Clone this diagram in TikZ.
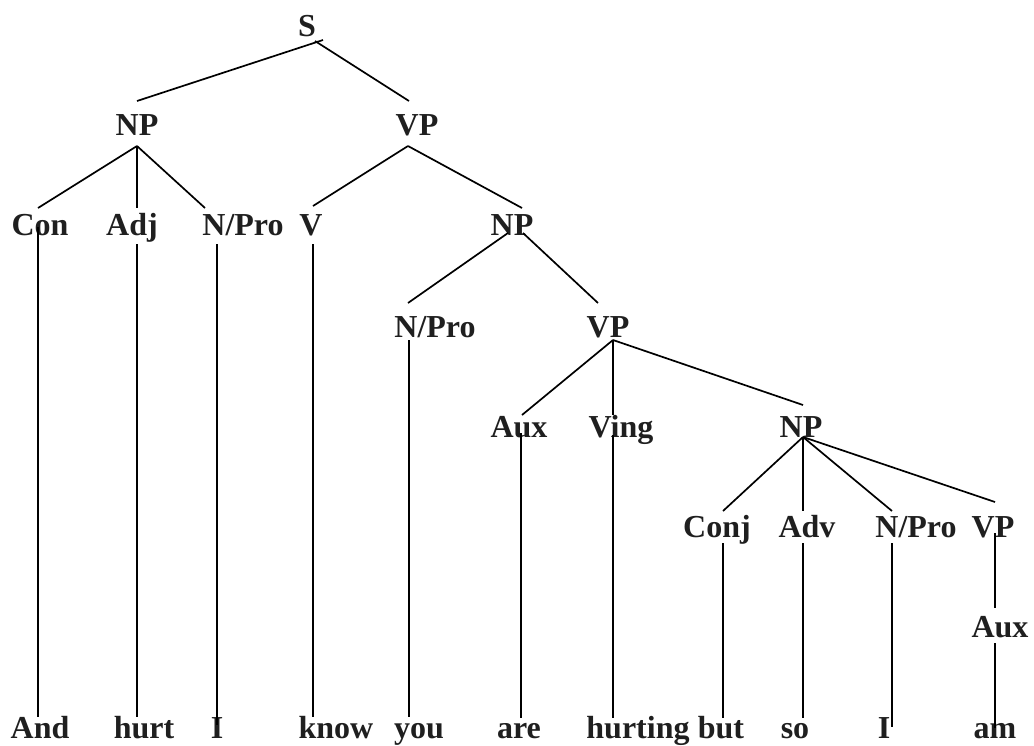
\documentclass[tikz,border=0pt]{standalone}
\usepackage{fontspec}
\setmainfont{Liberation Serif}
\begin{document}
\begin{tikzpicture}[x=1pt,y=-1pt,
  lab/.style={anchor=base, inner sep=0pt, font=\fontsize{32}{38}\selectfont\bfseries, text=black!88},
  edge/.style={line width=1.7pt, black}]
\useasboundingbox (0,0) rectangle (1034,745);
% labels
\node[lab] (s) at (307,36) {S};
\node[lab] (np1) at (137,135) {NP};
\node[lab] (vp1) at (417,135) {VP};
\node[lab] (con) at (40,235) {Con};
\node[lab] (adj) at (132,235) {Adj};
\node[lab] (npro1) at (243,235) {N/Pro};
\node[lab] (v) at (311,235) {V};
\node[lab] (np2) at (512,235) {NP};
\node[lab] (npro2) at (435,337) {N/Pro};
\node[lab] (vp2) at (608,337) {VP};
\node[lab] (aux1) at (519,437) {Aux};
\node[lab] (ving) at (621,437) {Ving};
\node[lab] (np3) at (801,437) {NP};
\node[lab] (conj) at (717,537) {Conj};
\node[lab] (adv) at (807,537) {Adv};
\node[lab] (npro3) at (916,537) {N/Pro};
\node[lab] (vp3) at (993,537) {VP};
\node[lab] (aux2) at (1000,637) {Aux};
% words
\node[lab] (wAnd) at (40,738) {And};
\node[lab] (wHurt) at (144,738) {hurt};
\node[lab] (wI) at (217,738) {I};
\node[lab] (wKnow) at (336,738) {know};
\node[lab] (wYou) at (419,738) {you};
\node[lab] (wAre) at (519,738) {are};
\node[lab] (wHurting) at (638,738) {hurting};
\node[lab] (wBut) at (721,738) {but};
\node[lab] (wSo) at (795,738) {so};
\node[lab] (wIb) at (884,738) {I};
\node[lab] (wAm) at (995,738) {am};
% connector end points
\coordinate (sL) at (323,40);
\coordinate (sR) at (315,41);
\coordinate (np1t) at (137,101);
\coordinate (vp1t) at (409,101);
\coordinate (np1b) at (137,146);
\coordinate (cont) at (38,208);
\coordinate (adjt) at (137,208);
\coordinate (npro1t) at (205,208);
\coordinate (vp1b) at (408,146);
\coordinate (vt) at (313,206);
\coordinate (np2t) at (522,208);
\coordinate (np2bl) at (508,233);
\coordinate (np2br) at (523,233);
\coordinate (npro2t) at (408,303);
\coordinate (vp2t) at (598,303);
\coordinate (vp2b) at (613,340);
\coordinate (aux1t) at (522,415);
\coordinate (vingt) at (613,415);
\coordinate (np3t) at (803,405);
\coordinate (np3b) at (803,437);
\coordinate (conjt) at (723,511);
\coordinate (advt) at (803,511);
\coordinate (npro3t) at (892,511);
\coordinate (vp3t) at (995,502);
% terminal line ends
\coordinate (conb) at (38,227);   \coordinate (wAndt) at (38,717);
\coordinate (adjb) at (137,244);  \coordinate (wHurtt) at (137,717);
\coordinate (npro1b) at (217,244);\coordinate (wIt) at (217,725);
\coordinate (vb) at (313,244);    \coordinate (wKnowt) at (313,717);
\coordinate (npro2b) at (409,340);\coordinate (wYout) at (409,717);
\coordinate (aux1b) at (521,433); \coordinate (wAret) at (521,718);
\coordinate (vingb) at (613,435); \coordinate (wHurtingt) at (613,718);
\coordinate (conjb) at (723,543); \coordinate (wButt) at (723,718);
\coordinate (advb) at (803,543);  \coordinate (wSot) at (803,718);
\coordinate (npro3b) at (892,543);\coordinate (wIbt) at (892,727);
\coordinate (vp3b) at (995,533);  \coordinate (aux2t) at (995,608);
\coordinate (aux2b) at (995,643); \coordinate (wAmt) at (995,728);
% branches
\draw[edge] (np1t) -- (sL);
\draw[edge] (sR) -- (vp1t);
\draw[edge] (np1b) -- (cont);
\draw[edge] (np1b) -- (adjt);
\draw[edge] (np1b) -- (npro1t);
\draw[edge] (vp1b) -- (vt);
\draw[edge] (vp1b) -- (np2t);
\draw[edge] (np2bl) -- (npro2t);
\draw[edge] (np2br) -- (vp2t);
\draw[edge] (vp2b) -- (aux1t);
\draw[edge] (vp2b) -- (vingt);
\draw[edge] (vp2b) -- (np3t);
\draw[edge] (np3b) -- (conjt);
\draw[edge] (np3b) -- (advt);
\draw[edge] (np3b) -- (npro3t);
\draw[edge] (np3b) -- (vp3t);
% terminals
\draw[edge] (conb) -- (wAndt);
\draw[edge] (adjb) -- (wHurtt);
\draw[edge] (npro1b) -- (wIt);
\draw[edge] (vb) -- (wKnowt);
\draw[edge] (npro2b) -- (wYout);
\draw[edge] (aux1b) -- (wAret);
\draw[edge] (vingb) -- (wHurtingt);
\draw[edge] (conjb) -- (wButt);
\draw[edge] (advb) -- (wSot);
\draw[edge] (npro3b) -- (wIbt);
\draw[edge] (vp3b) -- (aux2t);
\draw[edge] (aux2b) -- (wAmt);
\end{tikzpicture}
\end{document}
